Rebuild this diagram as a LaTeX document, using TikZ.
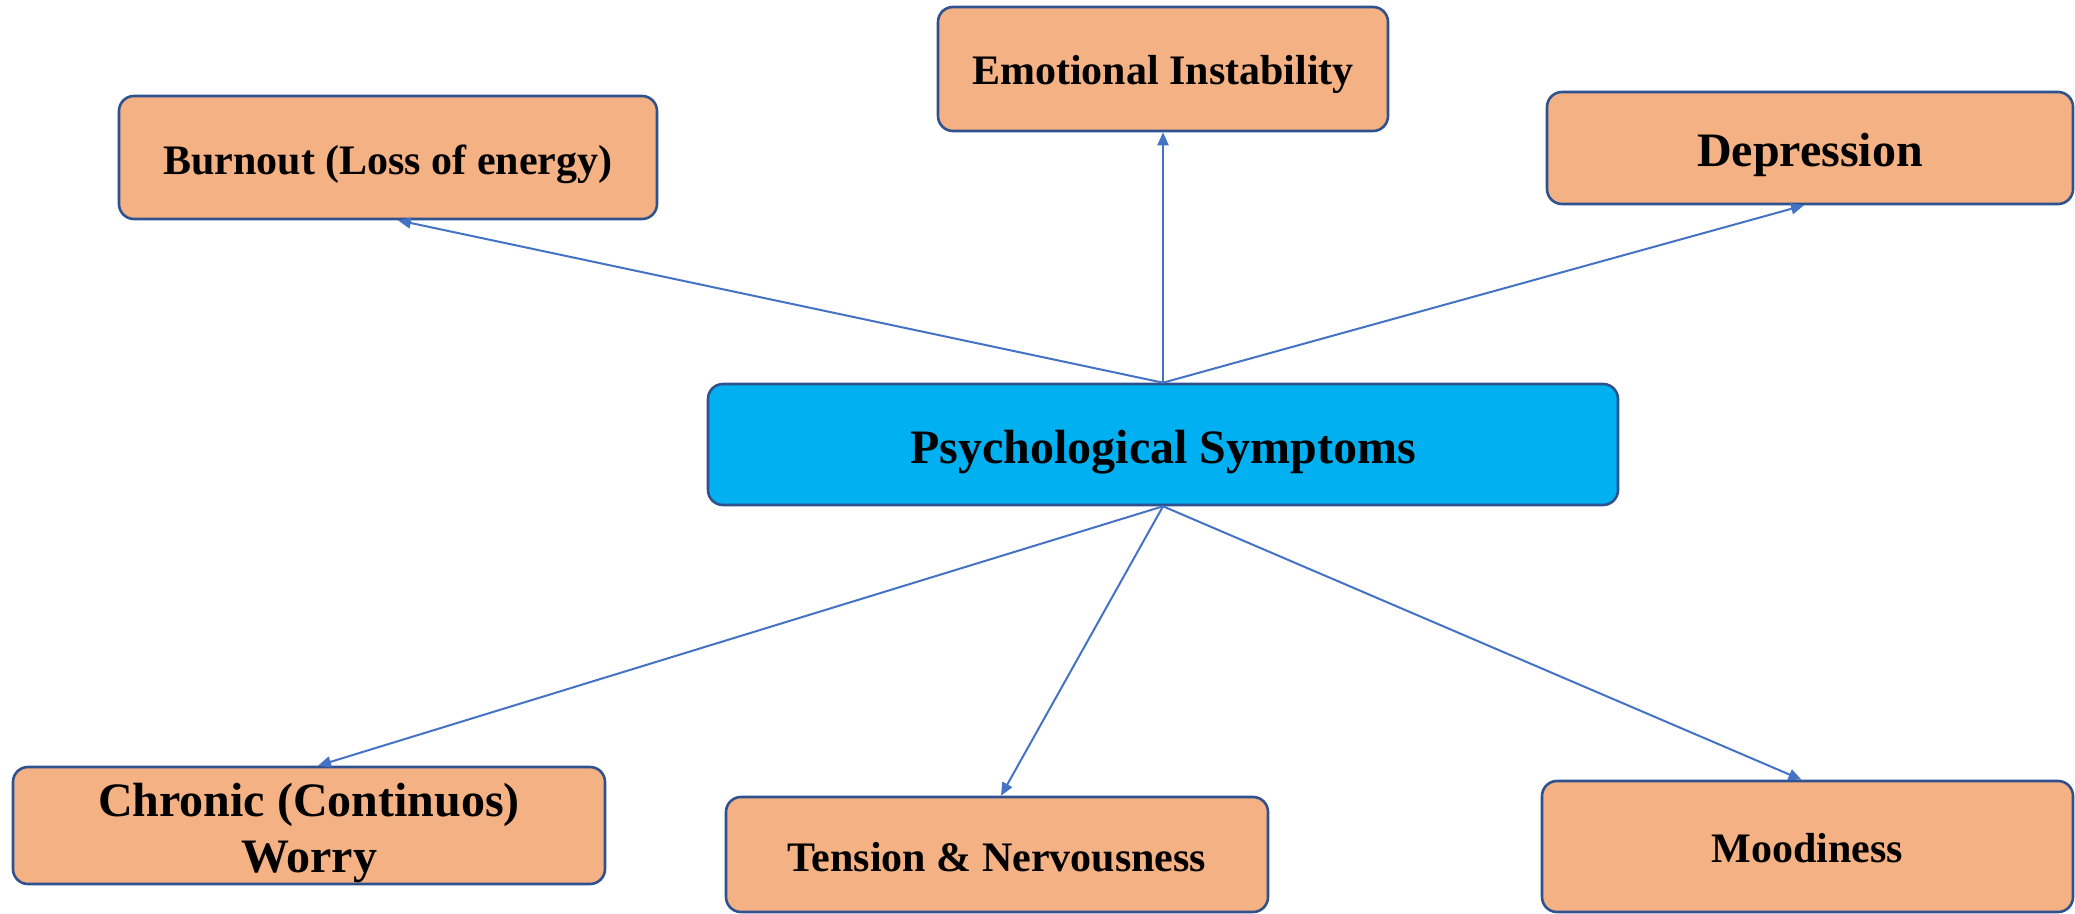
\documentclass[tikz,border=0pt]{standalone}
\usepackage{fontspec}
\setmainfont{Liberation Serif}
\usetikzlibrary{arrows.meta}
\definecolor{boxorange}{HTML}{F4B183}
\definecolor{boxblue}{HTML}{00B0F0}
\definecolor{boxborder}{HTML}{2F528F}
\definecolor{arrowblue}{HTML}{4472C4}
\tikzset{
  symbox/.style={draw=boxborder, line width=1.3pt, rounded corners=7.5pt, fill=boxorange, inner sep=0pt},
  lbl/.style={inner sep=0pt, align=center, font=\bfseries\fontsize{21}{25}\selectfont},
  biglbl/.style={lbl, font=\bfseries\fontsize{24}{28}\selectfont},
  conn/.style={draw=arrowblue, line width=1pt, -{Triangle[length=6.5pt,width=5.5pt]}}
}
\begin{document}
\begin{tikzpicture}[x=0.5pt,y=-0.5pt]
\useasboundingbox (0,0) rectangle (2075,914);
\node[symbox, minimum width=269pt, minimum height=61.5pt] (burn) at (388,157.5) {};
\node[symbox, minimum width=225pt, minimum height=62pt] (emo) at (1163,69) {};
\node[symbox, minimum width=263pt, minimum height=56pt] (dep) at (1810,148) {};
\node[symbox, fill=boxblue, minimum width=455pt, minimum height=60.5pt] (psy) at (1163,444.5) {};
\node[symbox, minimum width=296pt, minimum height=58.5pt] (chr) at (309,825.5) {};
\node[symbox, minimum width=271pt, minimum height=57.5pt] (ten) at (997,854.5) {};
\node[symbox, minimum width=265.5pt, minimum height=65.5pt] (mood) at (1807.5,846.5) {};
\node[lbl] (burnT) at ([yshift=-3.3pt]burn.center) {Burnout (Loss of energy)};
\node[lbl] (emoT) at ([yshift=-2.6pt]emo.center) {Emotional Instability};
\node[biglbl] (depT) at ([yshift=-3.3pt]dep.center) {Depression};
\node[biglbl] (psyT) at ([yshift=-4pt]psy.center) {Psychological Symptoms};
\node[biglbl] (chrT) at ([yshift=-4pt]chr.center) {Chronic (Continuos)\\Worry};
\node[lbl] (tenT) at ([yshift=-1.3pt]ten.center) {Tension \& Nervousness};
\node[lbl] (moodT) at ([yshift=-0.7pt]mood.center) {Moodiness};
\draw[conn] (psy.north) -- ([xshift=5pt]burn.south);
\draw[conn] (psy.north) -- (emo.south);
\draw[conn] (psy.north) -- ([xshift=-3pt]dep.south);
\draw[conn] (psy.south) -- ([xshift=4.5pt]chr.north);
\draw[conn] (psy.south) -- ([xshift=2pt]ten.north);
\draw[conn] (psy.south) -- ([xshift=-3pt]mood.north);
\end{tikzpicture}
\end{document}
